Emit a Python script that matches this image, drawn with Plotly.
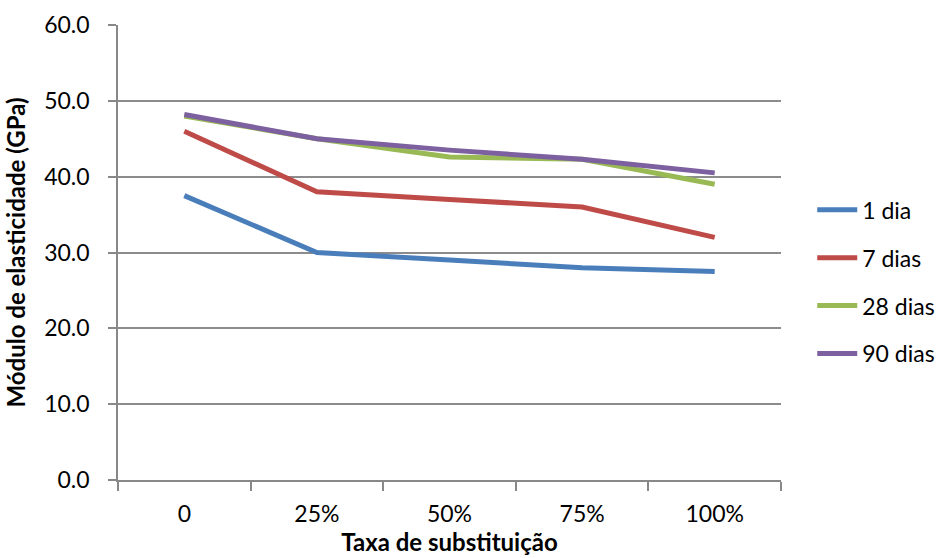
import plotly.graph_objects as go

categories = ["0", "25%", "50%", "75%", "100%"]
series_names = ["1 dia", "7 dias", "28 dias", "90 dias"]
dia1 = [37.5, 30.0, 29.0, 28.0, 27.5]
dias7 = [46.0, 38.0, 37.0, 36.0, 32.0]
dias28 = [48.0, 45.0, 42.6, 42.3, 39.0]
dias90 = [48.2, 45.0, 43.5, 42.3, 40.5]
colors = ["#4A7EBB", "#BE4B48", "#98B954", "#7D60A0"]

fig = go.Figure()
for name, vals, col in zip(series_names, [dia1, dias7, dias28, dias90], colors):
    fig.add_trace(go.Scatter(x=categories, y=vals, name=name, mode="lines",
                             legendgroup=name,
                             line=dict(color=col, width=5)))

font = "Lato"
fig.update_layout(
    width=939, height=558,
    margin=dict(l=118, r=158, t=25, b=78, autoexpand=False),
    plot_bgcolor="white", paper_bgcolor="white",
    font=dict(family=font, size=23, color="black"),
    legend=dict(xref="container", yref="container", x=0.865, y=0.495,
                xanchor="left", yanchor="middle",
                font=dict(size=23), tracegroupgap=15, itemwidth=40),
    xaxis=dict(type="category", range=[-0.5, 4.5], tickson="boundaries", ticks="outside",
               ticklen=9, tickcolor="#888", tickwidth=1.5, showline=True, linecolor="#888",
               linewidth=1.5, showgrid=False, tickfont=dict(size=23),
               ticklabelstandoff=13, automargin=False,
               title=dict(text="<b>Taxa de substituição</b>", font=dict(size=24), standoff=8)),
    yaxis=dict(range=[0, 60], dtick=10, tickformat=".1f", ticks="outside",
               ticklen=8, tickcolor="#888", tickwidth=1.5, showline=True, linecolor="#888",
               linewidth=1.5, showgrid=True, gridcolor="#8c8c8c", gridwidth=1.5,
               zeroline=False, tickfont=dict(size=23), ticklabelstandoff=14,
               automargin=False,
               title=dict(text="<b>Módulo de elasticidade (GPa)</b>", font=dict(size=24), standoff=12)),
)
post = "document.body.style.margin='0';document.body.style.overflow='hidden';"
fig.write_html("out.html", post_script=post, config={"displayModeBar": False})
